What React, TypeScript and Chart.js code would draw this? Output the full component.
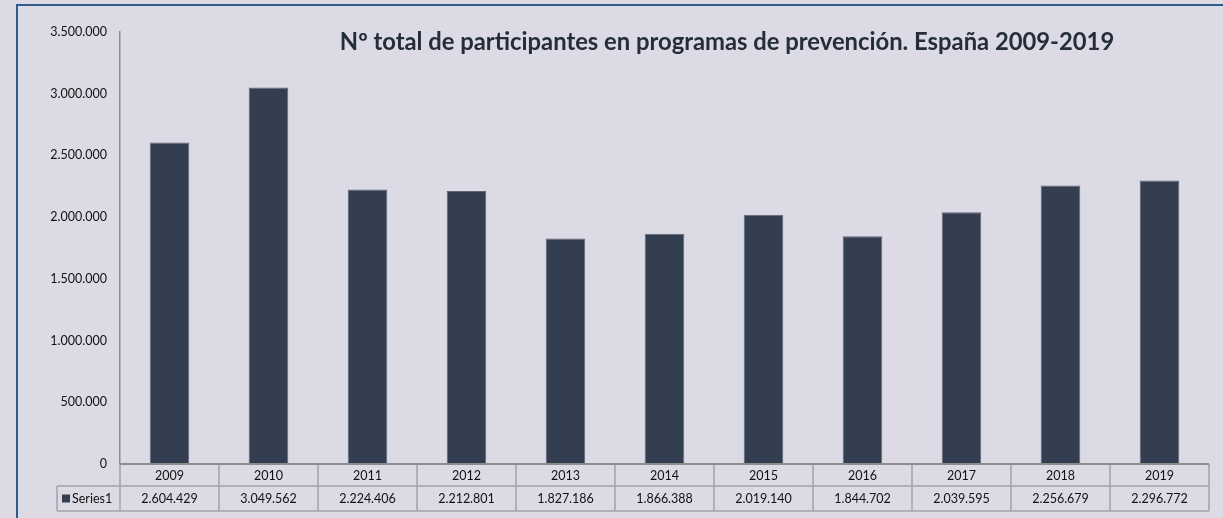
import React, { useEffect, useRef } from "react";
import { Chart, registerables } from "chart.js";

Chart.register(...registerables);

const categories = ["2009", "2010", "2011", "2012", "2013", "2014", "2015", "2016", "2017", "2018", "2019"];
const participants = [2604429, 3049562, 2224406, 2212801, 1827186, 1866388, 2019140, 1844702, 2039595, 2256679, 2296772];
const seriesName = "Series1";
const chartTitle = "Nº total de participantes en programas de prevención. España 2009-2019";
const yMin = 0;
const yMax = 3500000;
const yStep = 500000;

const BG = "#dcdbe5";
const BAR = "#333e50";
const FONT = "Lato, 'Open Sans', sans-serif";

function fmt(n: number): string {
  return String(Math.round(n)).replace(/\B(?=(\d{3})+(?!\d))/g, ".");
}

const titlePlugin = {
  id: "customTitle",
  afterDraw(chart: any) {
    const { ctx } = chart;
    ctx.save();
    ctx.font = `bold 23.8px ${FONT}`;
    ctx.fillStyle = "#252d3a";
    ctx.textAlign = "center";
    ctx.textBaseline = "alphabetic";
    ctx.fillText(chartTitle, 727, 50);
    ctx.restore();
  },
};

const tablePlugin = {
  id: "dataTable",
  afterDraw(chart: any) {
    const { ctx, chartArea } = chart;
    const left = chartArea.left;
    const right = chartArea.right;
    const top = chartArea.bottom;
    const n = categories.length;
    const w = (right - left) / n;
    const row1 = top + 22;
    const row2 = row1 + 25;
    const legendLeft = left - 63;

    ctx.save();
    ctx.strokeStyle = "#a3a3a8";
    ctx.lineWidth = 1.5;
    ctx.beginPath();
    ctx.moveTo(legendLeft, row1);
    ctx.lineTo(right, row1);
    ctx.moveTo(legendLeft, row2);
    ctx.lineTo(right, row2);
    ctx.moveTo(legendLeft, row1);
    ctx.lineTo(legendLeft, row2);
    for (let i = 0; i <= n; i++) {
      const xb = left + i * w;
      ctx.moveTo(xb, top);
      ctx.lineTo(xb, row2);
    }
    ctx.stroke();

    // x axis line
    ctx.strokeStyle = "#8c8c8c";
    ctx.lineWidth = 2;
    ctx.beginPath();
    ctx.moveTo(left, top);
    ctx.lineTo(right, top);
    ctx.stroke();

    ctx.fillStyle = "#111";
    ctx.font = `12.5px ${FONT}`;
    ctx.textAlign = "center";
    ctx.textBaseline = "middle";
    for (let i = 0; i < n; i++) {
      const cx = left + (i + 0.5) * w;
      ctx.fillText(categories[i], cx, (top + row1) / 2 + 0.5);
      ctx.fillText(fmt(participants[i]), cx, (row1 + row2) / 2 + 0.5);
    }
    // legend cell
    ctx.fillStyle = BAR;
    ctx.fillRect(legendLeft + 5, (row1 + row2) / 2 - 4, 8, 8);
    ctx.fillStyle = "#111";
    ctx.textAlign = "left";
    ctx.fillText(seriesName, legendLeft + 15, (row1 + row2) / 2 + 0.5);
    ctx.restore();
  },
};

export default function App() {
  const canvasRef = useRef<HTMLCanvasElement | null>(null);

  useEffect(() => {
    if (!canvasRef.current) return;
    const chart = new Chart(canvasRef.current, {
      type: "bar",
      data: {
        labels: categories,
        datasets: [
          {
            label: seriesName,
            data: participants,
            backgroundColor: BAR,
            borderColor: "#5d6679",
            borderWidth: 1,
            barPercentage: 0.4,
            categoryPercentage: 1,
          },
        ],
      },
      options: {
        animation: false,
        responsive: true,
        maintainAspectRatio: false,
        layout: { padding: { left: 0, top: 32, right: 14, bottom: 54 } },
        plugins: {
          legend: { display: false },
          title: { display: false },
          tooltip: { enabled: false },
        },
        scales: {
          x: { display: false },
          y: {
            min: yMin,
            max: yMax,
            afterFit: (s: any) => {
              s.width = 120;
            },
            ticks: {
              stepSize: yStep,
              padding: 13,
              color: "#111",
              font: { family: FONT, size: 12.5 },
              callback: (v: any) => fmt(Number(v)),
            },
            grid: { display: false, drawTicks: false },
            border: { display: true, color: "#8c8c8c", width: 1.5 },
          },
        },
      },
      plugins: [titlePlugin, tablePlugin],
    });
    return () => chart.destroy();
  }, []);

  return (
    <div
      style={{
        position: "fixed",
        left: 0,
        top: 0,
        width: 1223,
        height: 518,
        background: BG,
        overflow: "hidden",
      }}
    >
      <div
        style={{
          position: "absolute",
          left: 16,
          top: 4,
          width: 1300,
          height: 700,
          borderTop: "2px solid #2f5b8a",
          borderLeft: "2px solid #2f5b8a",
        }}
      />
      <div style={{ position: "absolute", left: 0, top: 0, width: 1223, height: 518 }}>
        <canvas ref={canvasRef} />
      </div>
    </div>
  );
}
